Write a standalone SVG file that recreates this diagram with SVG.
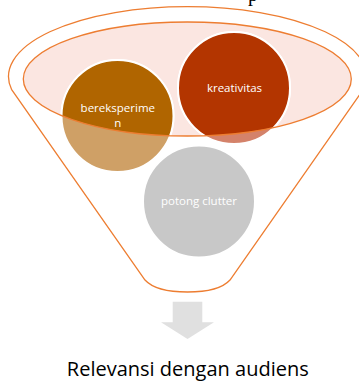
<svg xmlns="http://www.w3.org/2000/svg" width="359" height="382" viewBox="0 0 359 382">
  <style>
    .outline { fill: none; stroke: #ED7D31; stroke-width: 1.3; }
    .ring { stroke: #FFFFFF; stroke-width: 2; }
    .lbl { font-family: "Open Sans", "Liberation Sans", sans-serif; font-size: 11.5px; fill: #FFFFFF; text-anchor: middle; }
    .caption { font-family: "Open Sans", "Liberation Sans", sans-serif; font-size: 20px; fill: #000000; text-anchor: middle; }
  </style>
  <defs>
    <clipPath id="bowl">
      <ellipse cx="187.3" cy="79" rx="164" ry="57"/>
    </clipPath>
  </defs>

  <rect width="359" height="382" fill="#FFFFFF"/>

  <!-- clipped line of text running off the top edge -->
  <text x="248" y="0.5" font-family="Liberation Serif, serif" font-size="20" fill="#000000">p</text>

  <!-- funnel body -->
  <g id="funnel">
    <path class="outline" d="M11.5,89.3 A179,70 0 1,1 363.5,89.3 L230,280 C220,291 200,292 187.5,292 C175,292 155,291 145,280 Z"/>
  </g>

  <!-- funnel mouth -->
  <g id="mouth">
    <ellipse cx="187.3" cy="79" rx="164" ry="57" fill="#FBE6E1"/>
  </g>

  <g id="node-bereksperimen">
    <circle class="ring" cx="117.5" cy="116" r="56" fill="#CFA066"/>
    <circle cx="117.5" cy="116" r="56" fill="#B06500" clip-path="url(#bowl)"/>
    <circle cx="117.5" cy="116" r="56" fill="none" stroke="#FFFFFF" stroke-width="2" clip-path="url(#bowl)"/>
    <text class="lbl" x="117.8" y="112.3">bereksperime</text>
    <text class="lbl" x="117.8" y="126.7">n</text>
  </g>

  <g id="node-kreativitas">
    <circle class="ring" cx="234" cy="88" r="56" fill="#D4826A"/>
    <circle cx="234" cy="88" r="56" fill="#B33500" clip-path="url(#bowl)"/>
    <circle cx="234" cy="88" r="56" fill="none" stroke="#FFFFFF" stroke-width="2" clip-path="url(#bowl)"/>
    <text class="lbl" x="234.5" y="91.7">kreativitas</text>
  </g>

  <g id="node-potong-clutter">
    <circle class="ring" cx="199" cy="201.5" r="56" fill="#C8C8C8"/>
    <text class="lbl" x="199" y="205" fill="#F4F4F4">potong clutter</text>
  </g>

  <!-- rim of the mouth drawn over the nodes -->
  <g id="mouth-rim">
    <ellipse class="outline" cx="187.3" cy="79" rx="164" ry="57"/>
  </g>

  <g id="connectors">
    <path d="M172.7,301.7 H202.3 V322.3 H214 L187.5,339 L161,322.3 H172.7 Z" fill="#E0E0E0"/>
  </g>

  <g id="result">
    <text class="caption" x="187.8" y="376">Relevansi dengan audiens</text>
  </g>
</svg>
